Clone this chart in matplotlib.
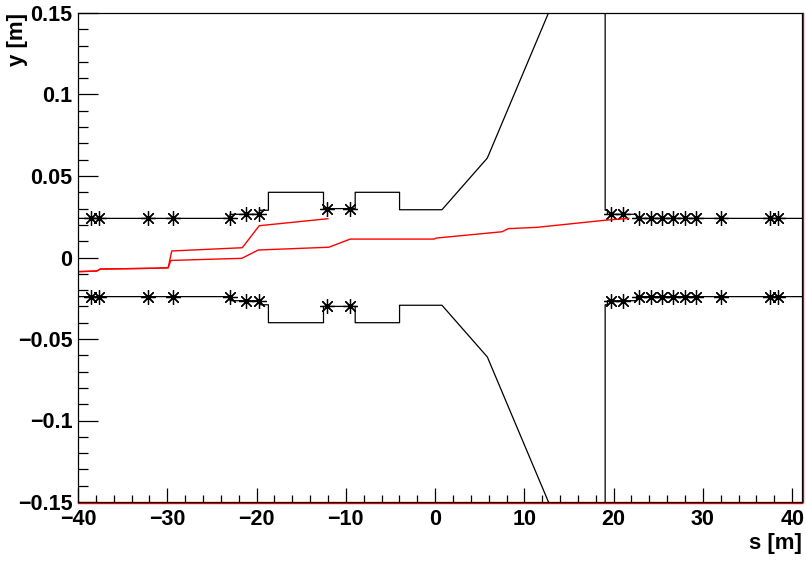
import numpy as np
import matplotlib.pyplot as plt
from matplotlib.ticker import MultipleLocator, FuncFormatter
from matplotlib.transforms import ScaledTranslation

plt.rcParams['font.family'] = ['Liberation Sans', 'DejaVu Sans']
plt.rcParams['font.weight'] = 'bold'

# half aperture (upper edge), lower edge is the mirror
ap_s = [-40.0, -22.97, -22.97, -19.67, -19.67, -18.67, -18.67, -12.5, -12.5,
        -8.95, -8.95, -3.98, -3.98, 0.77, 5.85, 12.7, 19.05, 19.05, 19.3,
        19.3, 22.56, 22.56, 41.1]
ap_y = [0.024, 0.024, 0.0265, 0.0265, 0.029, 0.029, 0.040, 0.040, 0.030,
        0.030, 0.040, 0.040, 0.0293, 0.0293, 0.061, 0.15, 0.233, 0.029, 0.029,
        0.0265, 0.0265, 0.024, 0.024]

# element positions along the line
elem_s = [-38.54, -37.61, -32.12, -29.32, -22.97, -21.21, -19.72, -12.13, -9.52,
          19.69, 21.10, 22.89, 24.17, 25.40, 26.70, 28.01, 29.24, 32.01, 37.46, 38.46]
elem_y = [0.024, 0.024, 0.024, 0.024, 0.024, 0.0265, 0.0265, 0.030, 0.030,
          0.0265, 0.0265, 0.024, 0.024, 0.024, 0.024, 0.024, 0.024, 0.024, 0.024, 0.024]

# beam trajectories
traj1_s = [-40.1, -37.9, -37.5, -31.5, -29.9, -29.5, -21.6, -19.7, -12.0]
traj1_y = [-0.0087, -0.0083, -0.0071, -0.0066, -0.0063, 0.0040, 0.0060, 0.0195, 0.0238]
traj2_s = [-40.1, -37.9, -37.5, -31.5, -29.9, -29.6, -21.65, -19.8, -11.9, -9.5,
           -0.1, 0.1, 7.5, 8.2, 11.4, 19.3, 21.7]
traj2_y = [-0.0087, -0.0083, -0.0071, -0.0066, -0.0063, -0.0018, -0.0005, 0.0046,
           0.0063, 0.0113, 0.0113, 0.0119, 0.0158, 0.0177, 0.0185, 0.0230, 0.0240]

fig = plt.figure(figsize=(8.06, 5.61), dpi=100)
ax = fig.add_axes([78/806, 1-502/561, 724/806, 489/561])

ap_y = np.array(ap_y)
elem_y = np.array(elem_y)
ax.plot(ap_s, ap_y, color='black', lw=0.9)
ax.plot(ap_s, -ap_y, color='black', lw=0.9)
ax.plot(elem_s, elem_y, ls='none', marker=(8, 2, 0), ms=10.5, mew=0.9, color='black')
ax.plot(elem_s, -elem_y, ls='none', marker=(8, 2, 0), ms=10.5, mew=0.9, color='black')
ax.plot(traj2_s, traj2_y, color='red', lw=1.0)
ax.plot(traj1_s, traj1_y, color='red', lw=1.0)

ax.set_xlim(-40, 41.1)
ax.set_ylim(-0.15, 0.15)

ax.xaxis.set_major_locator(MultipleLocator(10))
ax.xaxis.set_minor_locator(MultipleLocator(2))
ax.yaxis.set_major_locator(MultipleLocator(0.05))
ax.yaxis.set_minor_locator(MultipleLocator(0.01))

def fmt_x(v, pos):
    return f'{v:.0f}'.replace('-', '\u2212')

def fmt_y(v, pos):
    if abs(v) < 1e-9:
        return '0'
    return f'{v:g}'.replace('-', '\u2212')

ax.xaxis.set_major_formatter(FuncFormatter(fmt_x))
ax.yaxis.set_major_formatter(FuncFormatter(fmt_y))

ax.tick_params(axis='both', which='both', direction='in', top=False, right=False,
               width=0.9, labelsize=15.5)
ax.tick_params(axis='x', which='major', length=10, pad=5)
ax.tick_params(axis='x', which='minor', length=5)
ax.tick_params(axis='y', which='major', length=14.5, pad=4)
ax.tick_params(axis='y', which='minor', length=7.2)
for lab in ax.get_xticklabels() + ax.get_yticklabels():
    lab.set_fontweight('bold')

for sp in ax.spines.values():
    sp.set_linewidth(0.9)
    sp.set_color('black')

# red frame showing just outside the bottom and right edges
off_down = ax.transAxes + ScaledTranslation(0, -1.2/100, fig.dpi_scale_trans)
off_right = ax.transAxes + ScaledTranslation(1.2/100, 0, fig.dpi_scale_trans)
ax.plot([0, 1], [0, 0], color='red', lw=1.0, transform=off_down, clip_on=False)
ax.plot([1, 1], [0, 1], color='red', lw=1.0, transform=off_right, clip_on=False)

fig.text(802/806, 1-543/561, 's [m]', ha='right', va='center', fontsize=16, fontweight='bold')
fig.text(18/806, 1-13/561, 'y [m]', ha='center', va='top', rotation=90, fontsize=16, fontweight='bold')

fig.savefig('out.png', dpi=100)
